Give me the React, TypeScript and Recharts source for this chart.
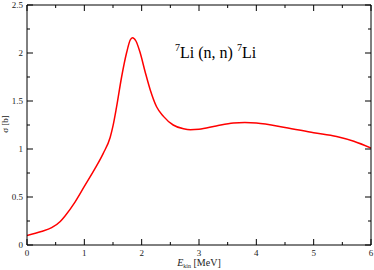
import React from 'react';
import { LineChart, Line, XAxis, YAxis, Customized } from 'recharts';

const energy = [0, 0.25, 0.43, 0.58, 0.66, 0.84, 1.0, 1.19, 1.33, 1.45, 1.5, 1.56, 1.65, 1.74, 1.8, 1.84, 1.9, 1.97, 2.06, 2.15, 2.26, 2.38, 2.55, 2.73, 2.85, 3.0, 3.3, 3.6, 3.8, 4.0, 4.5, 5.0, 5.4, 5.7, 6.0];
const sigma = [0.1, 0.14, 0.18, 0.245, 0.3, 0.45, 0.61, 0.8, 0.955, 1.12, 1.24, 1.43, 1.75, 2.01, 2.135, 2.16, 2.125, 2.01, 1.805, 1.615, 1.44, 1.34, 1.25, 1.21, 1.2, 1.205, 1.24, 1.27, 1.275, 1.27, 1.225, 1.17, 1.13, 1.08, 1.01];
const xTicks = [0, 0.5, 1, 1.5, 2, 2.5, 3, 3.5, 4, 4.5, 5, 5.5, 6];
const yTicks = [0, 0.25, 0.5, 0.75, 1, 1.25, 1.5, 1.75, 2, 2.25, 2.5];
const xLabels = ['0', '1', '2', '3', '4', '5', '6'];
const yLabels = ['0', '0.5', '1', '1.5', '2', '2.5'];

const data = energy.map((e, i) => ({ e, s: sigma[i] }));

const FONT = '"Liberation Serif", "DejaVu Serif", serif';

const isMajorX = (v: number) => Math.abs(v - Math.round(v)) < 1e-6;
const isMajorY = (v: number) => Math.abs(v * 2 - Math.round(v * 2)) < 1e-6;
const fmtY = (v: number) => {
  const s = String(v);
  return yLabels.includes(s) ? s : '';
};
const fmtX = (v: number) => {
  const s = String(v);
  return xLabels.includes(s) ? s : '';
};

const BottomTick = (p: any) => {
  const v = p.payload.value;
  const major = isMajorX(v);
  return (
    <g>
      <line x1={p.x} x2={p.x} y1={p.y} y2={p.y - (major ? 6 : 3)} stroke="#000" strokeWidth={1} />
      {major && (
        <text x={p.x} y={p.y + 11} textAnchor="middle" fontFamily={FONT} fontSize={9} fill="#222">
          {fmtX(v)}
        </text>
      )}
    </g>
  );
};
const TopTick = (p: any) => {
  const v = p.payload.value;
  const major = isMajorX(v);
  return <line x1={p.x} x2={p.x} y1={p.y} y2={p.y + (major ? 6 : 3)} stroke="#000" strokeWidth={1} />;
};
const LeftTick = (p: any) => {
  const v = p.payload.value;
  const major = isMajorY(v);
  return (
    <g>
      <line x1={p.x} x2={p.x + (major ? 6 : 3)} y1={p.y} y2={p.y} stroke="#000" strokeWidth={1} />
      {major && (
        <text x={p.x - 4} y={p.y + 3} textAnchor="end" fontFamily={FONT} fontSize={9} fill="#222">
          {fmtY(v)}
        </text>
      )}
    </g>
  );
};
const RightTick = (p: any) => {
  const v = p.payload.value;
  const major = isMajorY(v);
  return <line x1={p.x} x2={p.x - (major ? 6 : 3)} y1={p.y} y2={p.y} stroke="#000" strokeWidth={1} />;
};

const Texts = () => (
  <g>
    <text x={175} y={58} fontFamily={FONT} fontSize={16} fill="#000">
      <tspan fontSize={10} dy={-7}>7</tspan>
      <tspan dy={7}>Li (n, n) </tspan>
      <tspan fontSize={10} dy={-7}>7</tspan>
      <tspan dy={7}>Li</tspan>
    </text>
    <text x={199} y={266} textAnchor="middle" fontFamily={FONT} fontSize={10} fill="#222">
      <tspan fontStyle="italic">E</tspan>
      <tspan fontSize={6} dy={2}>kin</tspan>
      <tspan dy={-2}> [MeV]</tspan>
    </text>
    <text x={0} y={0} transform="translate(8,124) rotate(-90)" textAnchor="middle" fontFamily={FONT} fontSize={9} fill="#222">
      σ [b]
    </text>
  </g>
);

export default function App() {
  return (
    <div style={{ position: 'absolute', left: 0, top: 0 }}>
      <LineChart width={374} height={270} data={data} margin={{ top: 4, right: 2, left: 0, bottom: 0 }}>
        <XAxis
          dataKey="e"
          type="number"
          domain={[0, 6]}
          ticks={xTicks}
          interval={0}
          height={25}
          tickSize={0}
          tickMargin={0}
          tickLine={false}
          stroke="#000"
          tick={<BottomTick />}
          allowDataOverflow
        />
        <XAxis
          xAxisId="top"
          dataKey="e"
          type="number"
          orientation="top"
          domain={[0, 6]}
          ticks={xTicks}
          interval={0}
          height={1}
          tickSize={0}
          tickMargin={0}
          tickLine={false}
          stroke="#000"
          tick={<TopTick />}
          allowDataOverflow
        />
        <YAxis
          type="number"
          domain={[0, 2.5]}
          ticks={yTicks}
          interval={0}
          width={27}
          tickSize={0}
          tickMargin={0}
          tickLine={false}
          stroke="#000"
          tick={<LeftTick />}
          allowDataOverflow
        />
        <YAxis
          yAxisId="right"
          orientation="right"
          type="number"
          domain={[0, 2.5]}
          ticks={yTicks}
          interval={0}
          width={1}
          tickSize={0}
          tickMargin={0}
          tickLine={false}
          stroke="#000"
          tick={<RightTick />}
          allowDataOverflow
        />
        <Line
          xAxisId="top"
          yAxisId="right"
          type="monotone"
          dataKey="s"
          stroke="none"
          strokeWidth={0}
          dot={false}
          legendType="none"
          isAnimationActive={false}
        />
        <Line
          type="monotone"
          dataKey="s"
          stroke="#ff0000"
          strokeWidth={1.5}
          dot={false}
          isAnimationActive={false}
        />
        <Customized component={<Texts />} />
      </LineChart>
    </div>
  );
}
